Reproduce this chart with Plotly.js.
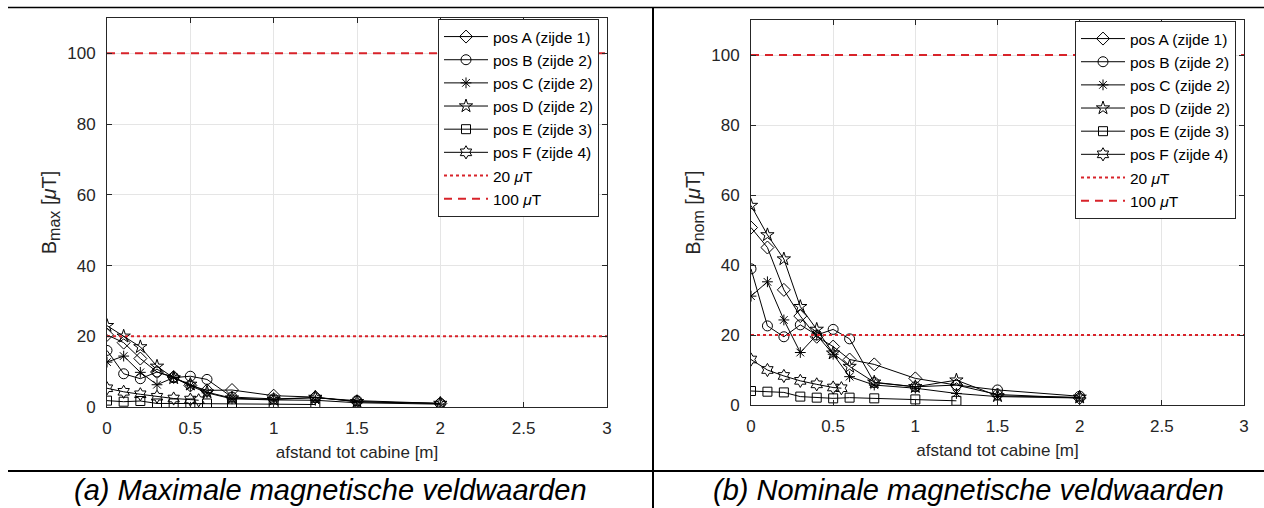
<!DOCTYPE html>
<html>
<head>
<meta charset="utf-8">
<script src="https://cdn.plot.ly/plotly-3.0.1.min.js"></script>
<style>
  html, body { margin: 0; padding: 0; background: #fff; }
  #chart { width: 1264px; height: 508px; }
</style>
</head>
<body>
<div id="chart"></div>
<script>
// Distances from the cabin [m]
const dist  = [0, 0.1, 0.2, 0.3, 0.4, 0.5, 0.6, 0.75, 1, 1.25, 1.5, 2];
const distE = [0, 0.1, 0.2, 0.3, 0.4, 0.5, 0.6, 0.75, 1, 1.25];
const distF = [0, 0.1, 0.2, 0.3, 0.4, 0.5, 0.55];

// Maximum field values B_max [uT]
const maxA = [20.4, 18.2, 13.7, 9.9, 8.5, 6.1, 4.7, 4.8, 3.2, 2.8, 1.5, 1.0];
const maxB = [16.0, 9.4, 8.0, 9.9, 8.3, 8.7, 7.8, 2.8, 2.3, 2.6, 1.8, 1.0];
const maxC = [12.7, 14.4, 9.8, 6.3, 8.3, 6.0, 4.0, 2.3, 2.0, 1.9, 1.2, 0.8];
const maxD = [23.0, 20.0, 17.0, 11.5, 8.2, 6.4, 4.2, 2.5, 2.1, 2.7, 1.5, 1.0];
const maxE = [1.8, 1.5, 1.7, 1.0, 1.0, 1.0, 1.0, 0.8, 0.8, 0.7];
const maxF = [5.3, 4.3, 3.6, 2.9, 2.4, 2.1, 1.9];

// Nominal field values B_nom [uT]
const nomA = [50.7, 45.0, 32.9, 25.4, 19.5, 16.7, 13.0, 11.6, 7.6, 5.7, 3.0, 2.0];
const nomB = [38.9, 22.6, 19.5, 22.9, 20.0, 21.6, 18.9, 6.4, 5.2, 5.7, 4.3, 2.5];
const nomC = [31.1, 35.2, 24.3, 15.0, 20.0, 14.5, 8.1, 5.7, 4.8, 3.3, 2.4, 2.0];
const nomD = [57.0, 48.6, 41.7, 28.1, 21.6, 14.8, 11.0, 6.5, 5.2, 7.1, 2.6, 2.2];
const nomE = [4.0, 3.8, 3.6, 2.4, 2.1, 1.9, 2.1, 1.9, 1.6, 1.2];
const nomF = [13.0, 10.0, 8.3, 6.9, 5.9, 5.0, 4.8];

// Reference limits [uT]
const limitLow = 20;
const limitHigh = 100;
const limitX = [0, 3];

const seriesNames = ['pos A (zijde 1)', 'pos B (zijde 2)', 'pos C (zijde 2)',
                     'pos D (zijde 2)', 'pos E (zijde 3)', 'pos F (zijde 4)'];
const symbols = ['diamond-open', 'circle-open', 'asterisk-open',
                 'star-open', 'square-open', 'hexagram-open'];
const symbolSizes = [10, 10, 9, 10, 9, 10];

const W = 1264, H = 508;
const FONT = 'Liberation Sans, Arial, sans-serif';
const INK = '#262626';
const RED = '#d8232a';

function measTraces(xs, ys, xa, ya, leg) {
  return ys.map((y, i) => ({
    x: xs[i], y: y, xaxis: xa, yaxis: ya, legend: leg,
    name: seriesNames[i], type: 'scatter', mode: 'lines+markers',
    line: { color: '#000', width: 1 },
    marker: { symbol: symbols[i], size: symbolSizes[i], color: '#000',
              line: { color: '#000', width: 1 } }
  }));
}
function limitTraces(xa, ya, leg) {
  return [
    { x: limitX, y: [limitLow, limitLow], xaxis: xa, yaxis: ya, legend: leg,
      name: '20 <i>μ</i>T', mode: 'lines', line: { color: RED, width: 2, dash: 'dot' } },
    { x: limitX, y: [limitHigh, limitHigh], xaxis: xa, yaxis: ya, legend: leg,
      name: '100 <i>μ</i>T', mode: 'lines', line: { color: RED, width: 2, dash: '8px,6px' } }
  ];
}

const xsAll = [dist, dist, dist, dist, distE, distF];
const traces = []
  .concat(measTraces(xsAll, [maxA, maxB, maxC, maxD, maxE, maxF], 'x', 'y', 'legend'))
  .concat(limitTraces('x', 'y', 'legend'))
  .concat(measTraces(xsAll, [nomA, nomB, nomC, nomD, nomE, nomF], 'x2', 'y2', 'legend2'))
  .concat(limitTraces('x2', 'y2', 'legend2'));

// Pixel boxes of the two plot areas
const boxL = { l: 107, r: 607, t: 18, b: 407 };
const boxR = { l: 751, r: 1244, t: 20, b: 405 };
const px = v => v / W, py = v => 1 - v / H;

function xAxis(box, anchor) {
  return {
    domain: [px(box.l), px(box.r)], anchor: anchor, range: [0, 3], dtick: 0.5,
    showgrid: true, gridcolor: '#e5e5e5', gridwidth: 1, zeroline: false,
    showline: true, linecolor: INK, linewidth: 1, mirror: 'ticks',
    ticks: 'inside', ticklen: 5, tickcolor: INK, ticklabelstandoff: 6,
    tickfont: { family: FONT, size: 17, color: INK },
    title: { text: 'afstand tot cabine [m]', font: { family: FONT, size: 17, color: INK }, standoff: 8 }
  };
}
function yAxis(box, anchor, label) {
  return {
    domain: [py(box.b), py(box.t)], anchor: anchor, range: [0, 110],
    tickvals: [0, 20, 40, 60, 80, 100],
    showgrid: true, gridcolor: '#e5e5e5', gridwidth: 1, zeroline: false,
    showline: true, linecolor: INK, linewidth: 1, mirror: 'ticks',
    ticks: 'inside', ticklen: 5, tickcolor: INK, ticklabelstandoff: 7,
    tickfont: { family: FONT, size: 17, color: INK },
    title: { text: label, font: { family: FONT, size: 20, color: INK }, standoff: 5 }
  };
}
function legendAt(box) {
  return {
    x: px(box.r - 8), y: py(box.t + 1), xanchor: 'right', yanchor: 'top',
    bgcolor: '#fff', bordercolor: INK, borderwidth: 1,
    font: { family: FONT, size: 15.5, color: '#000' },
    tracegroupgap: 0, itemwidth: 44
  };
}

const subStyle = "<span style='font-size:16px'>";
const layout = {
  width: W, height: H, margin: { l: 0, r: 0, t: 0, b: 0 },
  paper_bgcolor: '#fff', plot_bgcolor: '#fff', showlegend: true,
  xaxis: xAxis(boxL, 'y'),
  yaxis: yAxis(boxL, 'x', 'B<sub>' + subStyle + 'max</span></sub> [<i>μ</i>T]'),
  xaxis2: xAxis(boxR, 'y2'),
  yaxis2: yAxis(boxR, 'x2', 'B<sub>' + subStyle + 'nom</span></sub> [<i>μ</i>T]'),
  legend: legendAt(boxL), legend2: legendAt(boxR),
  shapes: [
    { type: 'line', xref: 'paper', yref: 'paper', x0: px(8), x1: 1, y0: py(7.5), y1: py(7.5),
      line: { color: '#000', width: 1.5 } },
    { type: 'line', xref: 'paper', yref: 'paper', x0: px(8), x1: 1, y0: py(471), y1: py(471),
      line: { color: '#000', width: 2 } },
    { type: 'line', xref: 'paper', yref: 'paper', x0: px(653), x1: px(653), y0: py(7), y1: 0,
      line: { color: '#000', width: 2 } }
  ],
  annotations: [
    { xref: 'paper', yref: 'paper', x: px(330), y: py(490), xanchor: 'center', yanchor: 'middle',
      showarrow: false, text: '<i>(a) Maximale magnetische veldwaarden</i>',
      font: { family: FONT, size: 29, color: '#000' } },
    { xref: 'paper', yref: 'paper', x: px(968), y: py(490), xanchor: 'center', yanchor: 'middle',
      showarrow: false, text: '<i>(b) Nominale magnetische veldwaarden</i>',
      font: { family: FONT, size: 29, color: '#000' } }
  ]
};

Plotly.newPlot('chart', traces, layout, { staticPlot: true, displayModeBar: false });
</script>
</body>
</html>
